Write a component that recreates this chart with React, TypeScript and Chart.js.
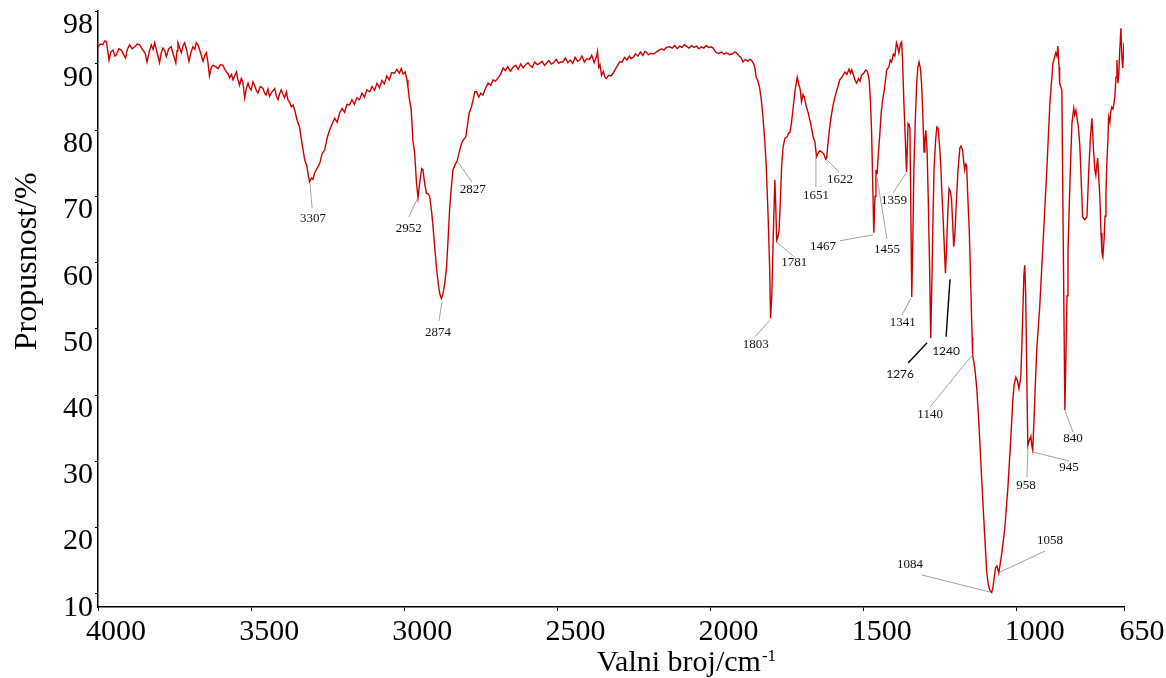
import React, { useEffect, useRef } from 'react';
import { Chart, registerables } from 'chart.js';

Chart.register(...registerables);

// IR spectrum: [wavenumber cm^-1, transmittance %]
const spectrum: [number, number][] = [
  [4000, 92.6], [3992, 93.0], [3984, 92.9], [3978, 93.5], [3973, 93.4], [3968, 92.0], [3964, 90.6], [3958, 91.8],
  [3951, 92.1], [3945, 91.2], [3940, 91.4], [3932, 92.3], [3924, 92.1], [3917, 91.5], [3910, 90.9], [3904, 92.2],
  [3897, 92.9], [3889, 92.3], [3880, 92.6], [3872, 93.0], [3864, 92.9], [3858, 92.4], [3853, 92.1], [3846, 91.6],
  [3840, 90.3], [3833, 91.8], [3826, 92.9], [3820, 92.2], [3815, 93.2], [3807, 91.7], [3799, 90.2], [3794, 91.6],
  [3788, 92.4], [3782, 92.0], [3777, 91.1], [3769, 92.3], [3761, 92.6], [3754, 91.4], [3746, 90.2], [3742, 92.0],
  [3739, 93.2], [3733, 92.4], [3728, 91.7], [3722, 92.8], [3717, 93.2], [3710, 92.0], [3703, 90.4], [3696, 91.8],
  [3690, 92.6], [3684, 92.2], [3679, 93.2], [3673, 92.8], [3668, 92.1], [3662, 91.2], [3657, 90.4], [3651, 91.3],
  [3646, 91.7], [3641, 90.2], [3636, 88.2], [3630, 89.5], [3625, 89.8], [3616, 89.6], [3608, 89.3], [3600, 89.9],
  [3592, 89.8], [3586, 89.2], [3581, 88.8], [3575, 88.5], [3570, 87.9], [3564, 88.4], [3559, 87.6], [3553, 88.3],
  [3548, 88.8], [3543, 87.6], [3538, 86.8], [3532, 87.8], [3527, 87.3], [3521, 84.9], [3515, 86.5], [3510, 87.1],
  [3505, 86.4], [3500, 86.1], [3494, 87.3], [3489, 86.8], [3483, 86.0], [3478, 85.6], [3470, 86.6], [3461, 86.3],
  [3456, 85.6], [3451, 85.3], [3445, 86.2], [3440, 85.1], [3432, 85.8], [3423, 86.3], [3418, 85.2], [3412, 84.6],
  [3407, 85.5], [3402, 86.1], [3396, 85.4], [3391, 84.9], [3385, 85.8], [3380, 84.6], [3374, 84.2], [3369, 83.5],
  [3363, 83.8], [3358, 83.1], [3350, 81.5], [3342, 80.5], [3334, 78.0], [3325, 75.5], [3318, 74.6], [3313, 73.0],
  [3309, 72.2], [3303, 72.8], [3298, 72.6], [3293, 73.5], [3285, 74.2], [3276, 75.0], [3268, 76.5], [3260, 77.0],
  [3252, 78.8], [3244, 80.0], [3236, 80.9], [3227, 81.8], [3219, 81.2], [3211, 82.6], [3203, 83.3], [3195, 82.7],
  [3187, 83.9], [3179, 83.8], [3171, 84.6], [3163, 83.9], [3155, 84.9], [3146, 84.6], [3138, 85.6], [3130, 85.0],
  [3122, 86.1], [3113, 85.8], [3105, 86.6], [3097, 86.0], [3089, 87.1], [3081, 86.4], [3073, 87.5], [3065, 87.0],
  [3057, 88.2], [3049, 87.6], [3041, 88.7], [3032, 88.6], [3024, 89.2], [3016, 88.6], [3010, 89.3], [3004, 88.5],
  [2997, 88.8], [2991, 87.6], [2988, 86.5], [2983, 84.6], [2977, 83.0], [2972, 78.5], [2966, 76.5], [2960, 72.0],
  [2955, 69.8], [2951, 71.5], [2947, 73.0], [2943, 74.2], [2939, 74.0], [2934, 72.2], [2928, 70.5], [2922, 70.4],
  [2917, 70.0], [2911, 67.8], [2906, 65.4], [2900, 62.0], [2895, 59.3], [2889, 56.8], [2884, 55.3], [2879, 54.6],
  [2874, 55.2], [2868, 56.8], [2862, 59.3], [2857, 63.5], [2852, 68.0], [2846, 71.5], [2841, 74.0], [2834, 74.8],
  [2828, 75.3], [2820, 76.8], [2813, 78.0], [2806, 78.6], [2799, 79.0], [2793, 81.0], [2788, 82.6], [2781, 83.5],
  [2775, 84.6], [2770, 85.8], [2764, 85.8], [2757, 85.0], [2750, 85.6], [2743, 85.3], [2735, 86.3], [2726, 87.1],
  [2718, 86.8], [2710, 87.6], [2702, 87.4], [2694, 87.9], [2686, 88.4], [2677, 89.4], [2670, 89.0], [2662, 89.6],
  [2654, 88.9], [2645, 89.5], [2636, 89.8], [2628, 89.2], [2620, 90.0], [2612, 89.4], [2604, 89.9], [2596, 90.2],
  [2590, 89.8], [2582, 89.5], [2574, 90.3], [2566, 89.9], [2558, 90.1], [2550, 90.4], [2542, 89.8], [2536, 90.1],
  [2528, 90.5], [2520, 90.0], [2512, 90.2], [2504, 90.7], [2496, 90.1], [2488, 90.3], [2482, 90.3], [2474, 90.9],
  [2466, 90.2], [2458, 90.6], [2450, 90.1], [2442, 91.0], [2434, 90.4], [2427, 90.6], [2420, 91.2], [2412, 90.3],
  [2404, 90.8], [2395, 90.7], [2388, 91.3], [2380, 90.2], [2373, 91.0], [2369, 91.9], [2365, 89.5], [2361, 89.9],
  [2356, 88.3], [2350, 88.9], [2345, 88.0], [2340, 87.8], [2333, 88.3], [2325, 88.2], [2318, 88.6], [2310, 89.3],
  [2303, 89.8], [2297, 90.3], [2289, 90.3], [2281, 91.0], [2273, 90.6], [2265, 91.2], [2260, 90.8], [2253, 91.0],
  [2245, 91.5], [2237, 91.2], [2229, 91.8], [2221, 91.3], [2214, 91.9], [2210, 91.8], [2203, 91.4], [2195, 91.6],
  [2187, 91.5], [2177, 91.8], [2168, 92.1], [2160, 92.3], [2152, 92.1], [2144, 92.5], [2133, 92.6], [2125, 92.4],
  [2117, 92.8], [2109, 92.3], [2101, 92.7], [2093, 92.5], [2086, 92.9], [2079, 92.7], [2070, 92.4], [2062, 92.8],
  [2054, 92.5], [2046, 92.7], [2038, 92.3], [2030, 92.6], [2022, 92.4], [2014, 92.8], [2006, 92.5], [1998, 92.6],
  [1992, 92.4], [1986, 92.0], [1981, 91.7], [1973, 91.6], [1964, 91.8], [1956, 91.5], [1948, 91.7], [1938, 91.4],
  [1930, 91.5], [1922, 91.8], [1916, 91.7], [1908, 91.3], [1900, 90.9], [1894, 90.3], [1886, 90.7], [1878, 90.4],
  [1872, 90.7], [1867, 90.6], [1860, 90.1], [1855, 89.4], [1851, 88.0], [1846, 87.5], [1840, 86.5], [1834, 84.5],
  [1829, 82.0], [1823, 78.5], [1818, 74.4], [1812, 67.0], [1807, 59.3], [1804, 51.6], [1800, 55.0], [1795, 64.5],
  [1790, 72.5], [1787, 68.5], [1784, 63.4], [1780, 63.9], [1776, 64.9], [1772, 69.5], [1768, 74.4], [1763, 77.5],
  [1757, 78.8], [1750, 79.0], [1745, 79.6], [1741, 79.6], [1736, 81.0], [1730, 83.5], [1724, 86.0], [1717, 88.0],
  [1712, 87.0], [1707, 86.1], [1703, 84.3], [1698, 85.4], [1694, 85.0], [1688, 83.7], [1681, 82.6], [1673, 81.0],
  [1665, 79.0], [1659, 78.2], [1654, 76.0], [1648, 76.6], [1643, 76.9], [1637, 76.7], [1630, 76.4], [1624, 75.6],
  [1621, 75.8], [1615, 78.8], [1608, 81.5], [1600, 83.8], [1594, 85.0], [1586, 86.3], [1578, 87.6], [1570, 88.1],
  [1561, 88.8], [1555, 88.4], [1548, 89.2], [1543, 88.6], [1539, 89.1], [1533, 88.3], [1528, 87.5], [1523, 87.1],
  [1517, 87.8], [1512, 87.4], [1507, 88.3], [1500, 88.6], [1493, 89.1], [1488, 88.9], [1482, 87.6], [1478, 84.5],
  [1474, 79.6], [1470, 71.0], [1467, 64.5], [1463, 70.0], [1460, 74.0], [1458, 73.4], [1456, 73.5], [1452, 76.5],
  [1447, 79.6], [1443, 82.5], [1438, 84.6], [1432, 86.3], [1425, 89.1], [1418, 89.5], [1413, 90.6], [1409, 90.3],
  [1403, 91.5], [1398, 91.2], [1393, 93.2], [1389, 92.6], [1385, 91.7], [1380, 93.0], [1376, 93.3], [1373, 90.5],
  [1369, 84.6], [1364, 78.5], [1360, 73.7], [1357, 78.0], [1355, 81.0], [1352, 80.8], [1349, 80.3], [1346, 68.0],
  [1343, 54.8], [1340, 62.0], [1336, 74.4], [1331, 82.0], [1327, 87.1], [1323, 89.5], [1319, 90.3], [1315, 89.4],
  [1311, 87.1], [1307, 82.5], [1303, 76.7], [1300, 78.5], [1297, 80.0], [1293, 77.0], [1289, 69.5], [1285, 60.0],
  [1281, 48.6], [1277, 58.0], [1274, 66.0], [1270, 74.4], [1265, 78.5], [1261, 80.5], [1257, 80.3], [1252, 77.5],
  [1248, 74.4], [1244, 70.0], [1240, 66.1], [1236, 61.5], [1233, 58.4], [1229, 62.5], [1225, 68.0], [1221, 71.2],
  [1217, 70.8], [1213, 69.5], [1209, 65.5], [1206, 62.4], [1202, 64.5], [1197, 69.5], [1192, 74.0], [1186, 77.3],
  [1182, 77.6], [1177, 77.0], [1173, 75.0], [1170, 74.0], [1167, 74.9], [1164, 74.7], [1160, 70.0], [1155, 64.5],
  [1150, 56.0], [1146, 48.8], [1144, 46.0], [1137, 44.0], [1131, 41.2], [1126, 37.5], [1121, 33.2], [1116, 28.5],
  [1111, 24.1], [1104, 18.1], [1098, 13.1], [1093, 11.4], [1088, 10.5], [1082, 10.2], [1078, 10.9], [1075, 12.0],
  [1069, 14.0], [1065, 14.2], [1059, 13.1], [1054, 14.6], [1049, 16.1], [1039, 20.0], [1029, 26.1], [1020, 33.2],
  [1013, 39.2], [1009, 41.5], [1003, 42.7], [998, 42.2], [993, 41.0], [987, 42.7], [984, 46.8], [980, 53.0],
  [977, 58.0], [974, 59.6], [971, 55.0], [968, 45.0], [964, 32.4], [959, 33.2], [954, 33.8], [951, 32.4],
  [948, 31.7], [944, 36.0], [940, 41.0], [935, 46.8], [925, 53.5], [915, 62.4], [902, 74.0], [892, 84.1],
  [882, 90.1], [873, 91.7], [869, 91.2], [866, 92.7], [862, 89.5], [860, 87.1], [856, 86.5], [853, 86.1],
  [850, 71.4], [846, 52.0], [843, 37.7], [840, 45.0], [836, 55.0], [833, 61.5], [826, 73.0], [820, 81.0],
  [814, 83.3], [811, 82.3], [807, 83.0], [804, 82.0], [799, 80.5], [794, 77.5], [789, 71.5], [785, 66.9],
  [778, 66.5], [771, 66.9], [765, 74.0], [760, 78.5], [755, 81.8], [752, 79.5], [749, 76.5], [745, 74.0],
  [742, 73.2], [739, 74.6], [736, 75.8], [732, 72.5], [729, 70.0], [725, 64.5], [722, 61.5], [719, 60.9],
  [715, 63.5], [712, 67.0], [709, 70.5], [706, 75.0], [703, 78.0], [700, 82.0], [696, 81.2], [693, 82.8],
  [690, 83.5], [686, 83.2], [683, 84.0], [680, 85.0], [676, 88.0], [673, 90.6], [670, 87.1], [667, 88.5],
  [664, 92.0], [660, 95.4], [657, 91.0], [654, 89.4], [652, 91.5], [650, 93.2],
];

const xTickValues = [4000, 3500, 3000, 2500, 2000, 1500, 1000, 650];
const yTickValues = [10, 20, 30, 40, 50, 60, 70, 80, 90, 98];

// Peak annotations (data coordinates)
const peakLabels = ['3307', '2952', '2874', '2827', '1803', '1781', '1651', '1622', '1467', '1455',
  '1359', '1341', '1276', '1240', '1140', '1084', '1058', '958', '945', '840'];
const leaderStart: [number, number][] = [
  [3308, 72.0], [2958, 69.6], [2877, 54.05], [2828, 75.35], [1806, 51.3], [1783, 63.1], [1656, 75.95], [1623, 75.65],
  [1469, 64.2], [1456.5, 72.9], [1361.8, 73.5], [1345.5, 54.65], [1293, 47.9], [1218, 57.5], [1143, 46.2],
  [1309.6, 12.83], [907.9, 16.45], [963.5, 32.16], [947.1, 31.4], [842.6, 37.6],
];
const leaderEnd: [number, number][] = [
  [3301, 68.25], [2985, 66.9], [2886.6, 51.2], [2779, 72.2], [1855, 48.8], [1731, 61.0], [1656, 71.4], [1580.5, 73.7],
  [1577, 63.3], [1424, 63.6], [1404, 70.5], [1375, 52.1], [1355, 44.85], [1231, 48.8], [1283.4, 38.2],
  [1087.5, 10.26], [1061.4, 13.13], [966.7, 27.6], [829.6, 30.05], [816.5, 34.4],
];
const labelPosition: [number, number][] = [
  [3298, 66.6], [2985, 65.2], [2890, 49.4], [2776, 71.1], [1852, 47.7], [1727, 59.95], [1656, 70.2], [1577, 72.6],
  [1633, 62.5], [1424, 61.9], [1401, 69.3], [1372, 50.9], [1381, 43.2], [1231, 46.65], [1283, 37.0],
  [1348.7, 14.34], [891.6, 18.0], [970, 26.4], [829.6, 29.0], [816.5, 33.5],
];
const labelKind = ['serif', 'serif', 'serif', 'serif', 'serif', 'serif', 'serif', 'serif', 'serif', 'serif',
  'serif', 'serif', 'sans', 'sans', 'serif', 'serif', 'serif', 'serif', 'serif', 'serif'];

const SERIF = '"Liberation Serif", "Times New Roman", serif';

const annotationPlugin = {
  id: 'peakAnnotations',
  afterDatasetsDraw(chart: any) {
    const { ctx, scales } = chart;
    const xs = scales.x;
    const ys = scales.y;
    ctx.save();
    for (let i = 0; i < peakLabels.length; i++) {
      const sans = labelKind[i] === 'sans';
      const x1 = xs.getPixelForValue(leaderStart[i][0]);
      const y1 = ys.getPixelForValue(leaderStart[i][1]);
      const x2 = xs.getPixelForValue(leaderEnd[i][0]);
      const y2 = ys.getPixelForValue(leaderEnd[i][1]);
      ctx.beginPath();
      ctx.moveTo(x1, y1);
      ctx.lineTo(x2, y2);
      ctx.strokeStyle = sans ? '#000000' : '#8a8a8a';
      ctx.lineWidth = sans ? 1.4 : 0.8;
      ctx.stroke();
      const tx = xs.getPixelForValue(labelPosition[i][0]);
      const ty = ys.getPixelForValue(labelPosition[i][1]);
      ctx.font = sans ? '12px Lato, "Open Sans", sans-serif' : '13px ' + SERIF;
      ctx.fillStyle = '#111111';
      ctx.textAlign = 'center';
      ctx.textBaseline = 'middle';
      ctx.fillText(peakLabels[i], tx, ty);
    }
    ctx.restore();
  },
};

const titlePlugin = {
  id: 'axisTitles',
  afterDraw(chart: any) {
    const { ctx, chartArea } = chart;
    ctx.save();
    ctx.fillStyle = '#000';
    // Y title
    ctx.translate(28, chartArea.top + (chartArea.bottom - chartArea.top) * 0.42);
    ctx.rotate(-Math.PI / 2);
    ctx.font = '32px ' + SERIF;
    ctx.textAlign = 'center';
    ctx.textBaseline = 'middle';
    ctx.fillText('Propusnost/%', 0, 0);
    ctx.restore();

    ctx.save();
    ctx.fillStyle = '#000';
    const main = 'Valni broj/cm';
    const sup = '-1';
    ctx.font = '30px ' + SERIF;
    const wMain = ctx.measureText(main).width;
    ctx.font = '17px ' + SERIF;
    const wSup = ctx.measureText(sup).width;
    const cx = chartArea.left + (chartArea.right - chartArea.left) * 0.573;
    const start = cx - (wMain + wSup) / 2;
    ctx.textAlign = 'left';
    ctx.textBaseline = 'alphabetic';
    ctx.font = '30px ' + SERIF;
    ctx.fillText(main, start, 671);
    ctx.font = '17px ' + SERIF;
    ctx.fillText(sup, start + wMain + 1, 661);
    ctx.restore();
  },
};

export default function App() {
  const canvasRef = useRef<HTMLCanvasElement | null>(null);

  useEffect(() => {
    document.body.style.margin = '0';
    const canvas = canvasRef.current;
    if (!canvas) return;
    const chart = new Chart(canvas, {
      type: 'line',
      data: {
        datasets: [
          {
            label: 'IR',
            data: spectrum.map(([x, y]) => ({ x, y })),
            borderColor: '#cc0000',
            borderWidth: 1.4,
            pointRadius: 0,
            tension: 0,
            fill: false,
          },
        ],
      },
      options: {
        animation: false,
        responsive: false,
        devicePixelRatio: 1,
        layout: { padding: { left: 0, right: 42, top: 11, bottom: 0 } },
        plugins: {
          legend: { display: false },
          tooltip: { enabled: false },
        },
        scales: {
          x: {
            type: 'linear',
            reverse: true,
            min: 650,
            max: 4000,
            afterBuildTicks: (scale: any) => {
              scale.ticks = xTickValues.map((v) => ({ value: v }));
            },
            afterFit: (scale: any) => {
              scale.height = 71;
              scale.paddingLeft = 0;
              scale.paddingRight = 0;
            },
            ticks: {
              autoSkip: false,
              maxRotation: 0,
              minRotation: 0,
              labelOffset: 18,
              padding: 3,
              color: '#000',
              font: { family: SERIF, size: 30 },
              callback: (v: any) => String(v),
            },
            grid: {
              display: true,
              drawOnChartArea: false,
              drawTicks: true,
              tickLength: 4,
              color: '#000',
              lineWidth: 1,
            },
            border: { display: true, color: '#000', width: 1.5 },
          },
          y: {
            type: 'linear',
            min: 8,
            max: 98,
            afterBuildTicks: (scale: any) => {
              scale.ticks = yTickValues.map((v) => ({ value: v }));
            },
            afterFit: (scale: any) => {
              scale.width = 98;
              scale.paddingTop = 0;
              scale.paddingBottom = 0;
            },
            ticks: {
              autoSkip: false,
              labelOffset: 14,
              padding: 2,
              color: '#000',
              font: { family: SERIF, size: 30 },
              callback: (v: any) => String(v),
            },
            grid: {
              display: true,
              drawOnChartArea: false,
              drawTicks: true,
              tickLength: 3,
              color: '#000',
              lineWidth: 1,
            },
            border: { display: true, color: '#000', width: 1.5 },
          },
        },
      },
      plugins: [annotationPlugin, titlePlugin],
    });
    return () => chart.destroy();
  }, []);

  return (
    <div style={{ position: 'absolute', left: 0, top: 0, width: 1166, height: 678, background: '#fff' }}>
      <canvas ref={canvasRef} width={1166} height={678} style={{ width: 1166, height: 678, display: 'block' }} />
    </div>
  );
}
